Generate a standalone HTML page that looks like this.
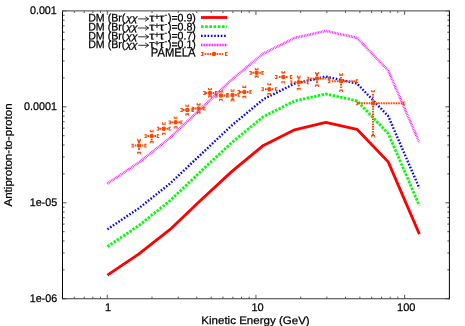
<!DOCTYPE html>
<html><head><meta charset="utf-8"><title>plot</title>
<style>
html,body{margin:0;padding:0;background:#fff;}
body{width:465px;height:326px;overflow:hidden;}
svg{display:block;will-change:transform;}
.t{font-family:"Liberation Sans",sans-serif;fill:#000;stroke:#000;stroke-width:0.25px;}
</style></head><body>
<svg width="465" height="326" viewBox="0 0 465 326">
<rect width="465" height="326" fill="#fff"/>
<path d="M62.50 298.75h4.0M449.40 298.75h-4.0M62.50 269.87h2.1M449.40 269.87h-2.1M62.50 252.97h2.1M449.40 252.97h-2.1M62.50 240.98h2.1M449.40 240.98h-2.1M62.50 231.68h2.1M449.40 231.68h-2.1M62.50 224.09h2.1M449.40 224.09h-2.1M62.50 217.66h2.1M449.40 217.66h-2.1M62.50 212.10h2.1M449.40 212.10h-2.1M62.50 207.19h2.1M449.40 207.19h-2.1M62.50 202.80h4.0M449.40 202.80h-4.0M62.50 173.92h2.1M449.40 173.92h-2.1M62.50 157.02h2.1M449.40 157.02h-2.1M62.50 145.03h2.1M449.40 145.03h-2.1M62.50 135.73h2.1M449.40 135.73h-2.1M62.50 128.14h2.1M449.40 128.14h-2.1M62.50 121.71h2.1M449.40 121.71h-2.1M62.50 116.15h2.1M449.40 116.15h-2.1M62.50 111.24h2.1M449.40 111.24h-2.1M62.50 106.85h4.0M449.40 106.85h-4.0M62.50 77.97h2.1M449.40 77.97h-2.1M62.50 61.07h2.1M449.40 61.07h-2.1M62.50 49.08h2.1M449.40 49.08h-2.1M62.50 39.78h2.1M449.40 39.78h-2.1M62.50 32.19h2.1M449.40 32.19h-2.1M62.50 25.76h2.1M449.40 25.76h-2.1M62.50 20.20h2.1M449.40 20.20h-2.1M62.50 15.29h2.1M449.40 15.29h-2.1M62.50 10.90h4.0M449.40 10.90h-4.0M62.50 298.75v-2.1M62.50 10.90v2.1M74.27 298.75v-2.1M74.27 10.90v2.1M84.23 298.75v-2.1M84.23 10.90v2.1M92.85 298.75v-2.1M92.85 10.90v2.1M100.46 298.75v-2.1M100.46 10.90v2.1M107.26 298.75v-4.0M107.26 10.90v4.0M152.02 298.75v-2.1M152.02 10.90v2.1M178.20 298.75v-2.1M178.20 10.90v2.1M196.78 298.75v-2.1M196.78 10.90v2.1M211.19 298.75v-2.1M211.19 10.90v2.1M222.96 298.75v-2.1M222.96 10.90v2.1M232.92 298.75v-2.1M232.92 10.90v2.1M241.54 298.75v-2.1M241.54 10.90v2.1M249.15 298.75v-2.1M249.15 10.90v2.1M255.95 298.75v-4.0M255.95 10.90v4.0M300.71 298.75v-2.1M300.71 10.90v2.1M326.89 298.75v-2.1M326.89 10.90v2.1M345.47 298.75v-2.1M345.47 10.90v2.1M359.88 298.75v-2.1M359.88 10.90v2.1M371.65 298.75v-2.1M371.65 10.90v2.1M381.61 298.75v-2.1M381.61 10.90v2.1M390.23 298.75v-2.1M390.23 10.90v2.1M397.84 298.75v-2.1M397.84 10.90v2.1M404.64 298.75v-4.0M404.64 10.90v4.0M449.40 298.75v-2.1M449.40 10.90v2.1" stroke="#000" stroke-width="0.9" fill="none" opacity="0.75"/>
<polyline points="107.4,275.1 138.6,254.2 169.8,229.7 201.0,200.1 232.2,171.1 263.4,145.4 294.6,129.8 325.8,122.4 357.0,129.3 388.2,161.9 419.4,234.1" fill="none" stroke="#ff0000" stroke-width="2.8" stroke-linejoin="round" stroke-linecap="butt"/>
<polyline points="107.4,246.6 138.6,225.7 169.8,200.9 201.0,171.2 232.2,142.2 263.4,116.6 294.6,101.0 325.8,93.9 357.0,100.8 388.2,133.4 419.4,205.6" fill="none" stroke="#00ff00" stroke-width="2.8" stroke-dasharray="2.4 1.4" stroke-linejoin="round"/>
<polyline points="107.4,229.3 138.6,208.4 169.8,183.7 201.0,154.3 232.2,125.1 263.4,99.2 294.6,83.7 325.8,76.6 357.0,83.5 388.2,116.1 419.4,188.3" fill="none" stroke="#0000ff" stroke-width="2.4" stroke-dasharray="1.6 1.7" stroke-linejoin="round"/>
<polyline points="107.4,183.6 138.6,162.7 169.8,138.0 201.0,108.6 232.2,79.2 263.4,53.5 294.6,37.9 325.8,30.9 357.0,37.8 388.2,70.4 419.4,142.6" fill="none" stroke="#ff00ff" stroke-width="2.6" stroke-dasharray="0.9 0.7" stroke-linejoin="round" opacity="0.85"/>
<path d="M132.65 143.70H133.75V147.50H132.65ZM131.30 143.70H133.20V144.70H131.30ZM131.30 146.50H133.20V147.50H131.30ZM132.20 145.20H133.20V146.00H132.20ZM144.25 143.70H145.35V147.50H144.25ZM144.80 143.70H146.70V144.70H144.80ZM144.80 146.50H146.70V147.50H144.80ZM144.80 145.20H145.80V146.00H144.80ZM137.15 140.15H140.95V141.25H137.15ZM137.15 138.80H138.15V140.70H137.15ZM139.95 138.80H140.95V140.70H139.95ZM138.65 139.70H139.45V140.70H138.65ZM137.15 151.85H140.95V152.95H137.15ZM137.15 152.40H138.15V154.30H137.15ZM139.95 152.40H140.95V154.30H139.95ZM138.65 152.40H139.45V153.40H138.65ZM134.75 144.60H136.35V146.60H134.75ZM141.75 144.60H143.35V146.60H141.75ZM138.05 141.30H140.05V142.90H138.05ZM138.05 148.30H140.05V149.90H138.05Z" fill="#ff4500"/><circle cx="139.05" cy="145.60" r="2.25" fill="#ff4500"/>
<path d="M145.65 134.20H146.75V138.00H145.65ZM144.30 134.20H146.20V135.20H144.30ZM144.30 137.00H146.20V138.00H144.30ZM145.20 135.70H146.20V136.50H145.20ZM156.75 134.20H157.85V138.00H156.75ZM157.30 134.20H159.20V135.20H157.30ZM157.30 137.00H159.20V138.00H157.30ZM157.30 135.70H158.30V136.50H157.30ZM149.80 131.15H153.60V132.25H149.80ZM149.80 129.80H150.80V131.70H149.80ZM152.60 129.80H153.60V131.70H152.60ZM151.30 130.70H152.10V131.70H151.30ZM149.80 141.05H153.60V142.15H149.80ZM149.80 141.60H150.80V143.50H149.80ZM152.60 141.60H153.60V143.50H152.60ZM151.30 141.60H152.10V142.60H151.30ZM147.40 135.10H149.00V137.10H147.40ZM154.40 135.10H156.00V137.10H154.40ZM150.70 138.80H152.70V140.40H150.70Z" fill="#ff4500"/><circle cx="151.70" cy="136.10" r="2.25" fill="#ff4500"/>
<path d="M158.15 126.80H159.25V130.60H158.15ZM156.80 126.80H158.70V127.80H156.80ZM156.80 129.60H158.70V130.60H156.80ZM157.70 128.30H158.70V129.10H157.70ZM168.45 126.80H169.55V130.60H168.45ZM169.00 126.80H170.90V127.80H169.00ZM169.00 129.60H170.90V130.60H169.00ZM169.00 128.30H170.00V129.10H169.00ZM161.90 123.65H165.70V124.75H161.90ZM161.90 122.30H162.90V124.20H161.90ZM164.70 122.30H165.70V124.20H164.70ZM163.40 123.20H164.20V124.20H163.40ZM161.90 132.65H165.70V133.75H161.90ZM161.90 133.20H162.90V135.10H161.90ZM164.70 133.20H165.70V135.10H164.70ZM163.40 133.20H164.20V134.20H163.40ZM159.50 127.70H161.10V129.70H159.50ZM166.50 127.70H168.10V129.70H166.50Z" fill="#ff4500"/><circle cx="163.80" cy="128.70" r="2.25" fill="#ff4500"/>
<path d="M169.85 120.40H170.95V124.20H169.85ZM168.50 120.40H170.40V121.40H168.50ZM168.50 123.20H170.40V124.20H168.50ZM169.40 121.90H170.40V122.70H169.40ZM180.25 120.40H181.35V124.20H180.25ZM180.80 120.40H182.70V121.40H180.80ZM180.80 123.20H182.70V124.20H180.80ZM180.80 121.90H181.80V122.70H180.80ZM173.70 117.75H177.50V118.85H173.70ZM173.70 116.40H174.70V118.30H173.70ZM176.50 116.40H177.50V118.30H176.50ZM175.20 117.30H176.00V118.30H175.20ZM173.70 126.25H177.50V127.35H173.70ZM173.70 126.80H174.70V128.70H173.70ZM176.50 126.80H177.50V128.70H176.50ZM175.20 126.80H176.00V127.80H175.20ZM171.30 121.30H172.90V123.30H171.30ZM178.30 121.30H179.90V123.30H178.30Z" fill="#ff4500"/><circle cx="175.60" cy="122.30" r="2.25" fill="#ff4500"/>
<path d="M181.65 108.10H182.75V111.90H181.65ZM180.30 108.10H182.20V109.10H180.30ZM180.30 110.90H182.20V111.90H180.30ZM181.20 109.60H182.20V110.40H181.20ZM191.45 108.10H192.55V111.90H191.45ZM192.00 108.10H193.90V109.10H192.00ZM192.00 110.90H193.90V111.90H192.00ZM192.00 109.60H193.00V110.40H192.00ZM185.40 105.75H189.20V106.85H185.40ZM185.40 104.40H186.40V106.30H185.40ZM188.20 104.40H189.20V106.30H188.20ZM186.90 105.30H187.70V106.30H186.90ZM185.40 113.35H189.20V114.45H185.40ZM185.40 113.90H186.40V115.80H185.40ZM188.20 113.90H189.20V115.80H188.20ZM186.90 113.90H187.70V114.90H186.90ZM183.00 109.00H184.60V111.00H183.00Z" fill="#ff4500"/><circle cx="187.30" cy="110.00" r="2.25" fill="#ff4500"/>
<path d="M192.85 106.70H193.95V110.50H192.85ZM191.50 106.70H193.40V107.70H191.50ZM191.50 109.50H193.40V110.50H191.50ZM192.40 108.20H193.40V109.00H192.40ZM203.15 106.70H204.25V110.50H203.15ZM203.70 106.70H205.60V107.70H203.70ZM203.70 109.50H205.60V110.50H203.70ZM203.70 108.20H204.70V109.00H203.70ZM196.70 104.35H200.50V105.45H196.70ZM196.70 103.00H197.70V104.90H196.70ZM199.50 103.00H200.50V104.90H199.50ZM198.20 103.90H199.00V104.90H198.20ZM196.70 111.55H200.50V112.65H196.70ZM196.70 112.10H197.70V114.00H196.70ZM199.50 112.10H200.50V114.00H199.50ZM198.20 112.10H199.00V113.10H198.20ZM194.30 107.60H195.90V109.60H194.30ZM201.30 107.60H202.90V109.60H201.30Z" fill="#ff4500"/><circle cx="198.60" cy="108.60" r="2.25" fill="#ff4500"/>
<path d="M204.55 91.10H205.65V94.90H204.55ZM203.20 91.10H205.10V92.10H203.20ZM203.20 93.90H205.10V94.90H203.20ZM204.10 92.60H205.10V93.40H204.10ZM214.95 91.10H216.05V94.90H214.95ZM215.50 91.10H217.40V92.10H215.50ZM215.50 93.90H217.40V94.90H215.50ZM215.50 92.60H216.50V93.40H215.50ZM208.10 89.25H211.90V90.35H208.10ZM208.10 87.90H209.10V89.80H208.10ZM210.90 87.90H211.90V89.80H210.90ZM209.60 88.80H210.40V89.80H209.60ZM208.10 95.35H211.90V96.45H208.10ZM208.10 95.90H209.10V97.80H208.10ZM210.90 95.90H211.90V97.80H210.90ZM209.60 95.90H210.40V96.90H209.60ZM205.70 92.00H207.30V94.00H205.70ZM212.70 92.00H214.30V94.00H212.70Z" fill="#ff4500"/><circle cx="210.00" cy="93.00" r="2.25" fill="#ff4500"/>
<path d="M216.35 93.60H217.45V97.40H216.35ZM215.00 93.60H216.90V94.60H215.00ZM215.00 96.40H216.90V97.40H215.00ZM215.90 95.10H216.90V95.90H215.90ZM226.15 93.60H227.25V97.40H226.15ZM226.70 93.60H228.60V94.60H226.70ZM226.70 96.40H228.60V97.40H226.70ZM226.70 95.10H227.70V95.90H226.70ZM219.00 91.45H222.80V92.55H219.00ZM219.00 90.10H220.00V92.00H219.00ZM221.80 90.10H222.80V92.00H221.80ZM220.50 91.00H221.30V92.00H220.50ZM219.00 98.65H222.80V99.75H219.00ZM219.00 99.20H220.00V101.10H219.00ZM221.80 99.20H222.80V101.10H221.80ZM220.50 99.20H221.30V100.20H220.50ZM223.60 94.50H225.20V96.50H223.60Z" fill="#ff4500"/><circle cx="220.90" cy="95.50" r="2.25" fill="#ff4500"/>
<path d="M227.55 93.00H228.65V96.80H227.55ZM226.20 93.00H228.10V94.00H226.20ZM226.20 95.80H228.10V96.80H226.20ZM227.10 94.50H228.10V95.30H227.10ZM237.55 93.00H238.65V96.80H237.55ZM238.10 93.00H240.00V94.00H238.10ZM238.10 95.80H240.00V96.80H238.10ZM238.10 94.50H239.10V95.30H238.10ZM230.60 90.65H234.40V91.75H230.60ZM230.60 89.30H231.60V91.20H230.60ZM233.40 89.30H234.40V91.20H233.40ZM232.10 90.20H232.90V91.20H232.10ZM230.60 99.25H234.40V100.35H230.60ZM230.60 99.80H231.60V101.70H230.60ZM233.40 99.80H234.40V101.70H233.40ZM232.10 99.80H232.90V100.80H232.10ZM235.20 93.90H236.80V95.90H235.20ZM231.50 97.60H233.50V99.20H231.50Z" fill="#ff4500"/><circle cx="232.50" cy="94.90" r="2.25" fill="#ff4500"/>
<path d="M238.95 90.00H240.05V93.80H238.95ZM237.60 90.00H239.50V91.00H237.60ZM237.60 92.80H239.50V93.80H237.60ZM238.50 91.50H239.50V92.30H238.50ZM249.35 90.00H250.45V93.80H249.35ZM249.90 90.00H251.80V91.00H249.90ZM249.90 92.80H251.80V93.80H249.90ZM249.90 91.50H250.90V92.30H249.90ZM242.40 86.85H246.20V87.95H242.40ZM242.40 85.50H243.40V87.40H242.40ZM245.20 85.50H246.20V87.40H245.20ZM243.90 86.40H244.70V87.40H243.90ZM242.40 95.85H246.20V96.95H242.40ZM242.40 96.40H243.40V98.30H242.40ZM245.20 96.40H246.20V98.30H245.20ZM243.90 96.40H244.70V97.40H243.90ZM240.00 90.90H241.60V92.90H240.00ZM247.00 90.90H248.60V92.90H247.00Z" fill="#ff4500"/><circle cx="244.30" cy="91.90" r="2.25" fill="#ff4500"/>
<path d="M250.75 70.90H251.85V74.70H250.75ZM249.40 70.90H251.30V71.90H249.40ZM249.40 73.70H251.30V74.70H249.40ZM250.30 72.40H251.30V73.20H250.30ZM261.35 70.90H262.45V74.70H261.35ZM261.90 70.90H263.80V71.90H261.90ZM261.90 73.70H263.80V74.70H261.90ZM261.90 72.40H262.90V73.20H261.90ZM254.70 69.15H258.50V70.25H254.70ZM254.70 67.80H255.70V69.70H254.70ZM257.50 67.80H258.50V69.70H257.50ZM256.20 68.70H257.00V69.70H256.20ZM254.70 75.55H258.50V76.65H254.70ZM254.70 76.10H255.70V78.00H254.70ZM257.50 76.10H258.50V78.00H257.50ZM256.20 76.10H257.00V77.10H256.20ZM252.30 71.80H253.90V73.80H252.30ZM259.30 71.80H260.90V73.80H259.30Z" fill="#ff4500"/><circle cx="256.60" cy="72.80" r="2.25" fill="#ff4500"/>
<path d="M262.75 87.30H263.85V91.10H262.75ZM261.40 87.30H263.30V88.30H261.40ZM261.40 90.10H263.30V91.10H261.40ZM262.30 88.80H263.30V89.60H262.30ZM274.95 87.30H276.05V91.10H274.95ZM275.50 87.30H277.40V88.30H275.50ZM275.50 90.10H277.40V91.10H275.50ZM275.50 88.80H276.50V89.60H275.50ZM267.40 84.25H271.20V85.35H267.40ZM267.40 82.90H268.40V84.80H267.40ZM270.20 82.90H271.20V84.80H270.20ZM268.90 83.80H269.70V84.80H268.90ZM267.40 92.95H271.20V94.05H267.40ZM267.40 93.50H268.40V95.40H267.40ZM270.20 93.50H271.20V95.40H270.20ZM268.90 93.50H269.70V94.50H268.90ZM265.00 88.20H266.60V90.20H265.00ZM272.00 88.20H273.60V90.20H272.00Z" fill="#ff4500"/><circle cx="269.30" cy="89.20" r="2.25" fill="#ff4500"/>
<path d="M276.35 75.10H277.45V78.90H276.35ZM275.00 75.10H276.90V76.10H275.00ZM275.00 77.90H276.90V78.90H275.00ZM275.90 76.60H276.90V77.40H275.90ZM289.85 75.10H290.95V78.90H289.85ZM290.40 75.10H292.30V76.10H290.40ZM290.40 77.90H292.30V78.90H290.40ZM290.40 76.60H291.40V77.40H290.40ZM281.40 72.35H285.20V73.45H281.40ZM281.40 71.00H282.40V72.90H281.40ZM284.20 71.00H285.20V72.90H284.20ZM282.90 71.90H283.70V72.90H282.90ZM281.40 81.15H285.20V82.25H281.40ZM281.40 81.70H282.40V83.60H281.40ZM284.20 81.70H285.20V83.60H284.20ZM282.90 81.70H283.70V82.70H282.90ZM279.00 76.00H280.60V78.00H279.00ZM286.00 76.00H287.60V78.00H286.00Z" fill="#ff4500"/><circle cx="283.30" cy="77.00" r="2.25" fill="#ff4500"/>
<path d="M291.25 80.40H292.35V84.20H291.25ZM289.90 80.40H291.80V81.40H289.90ZM289.90 83.20H291.80V84.20H289.90ZM290.80 81.90H291.80V82.70H290.80ZM306.75 80.40H307.85V84.20H306.75ZM307.30 80.40H309.20V81.40H307.30ZM307.30 83.20H309.20V84.20H307.30ZM307.30 81.90H308.30V82.70H307.30ZM296.80 76.75H300.60V77.85H296.80ZM296.80 75.40H297.80V77.30H296.80ZM299.60 75.40H300.60V77.30H299.60ZM298.30 76.30H299.10V77.30H298.30ZM296.80 87.95H300.60V89.05H296.80ZM296.80 88.50H297.80V90.40H296.80ZM299.60 88.50H300.60V90.40H299.60ZM298.30 88.50H299.10V89.50H298.30ZM294.40 81.30H296.00V83.30H294.40ZM301.40 81.30H303.00V83.30H301.40ZM303.90 81.30H305.50V83.30H303.90ZM297.70 78.00H299.70V79.60H297.70ZM297.70 85.00H299.70V86.60H297.70Z" fill="#ff4500"/><circle cx="298.70" cy="82.30" r="2.25" fill="#ff4500"/>
<path d="M308.15 76.70H309.25V80.50H308.15ZM306.80 76.70H308.70V77.70H306.80ZM306.80 79.50H308.70V80.50H306.80ZM307.70 78.20H308.70V79.00H307.70ZM327.75 76.70H328.85V80.50H327.75ZM328.30 76.70H330.20V77.70H328.30ZM328.30 79.50H330.20V80.50H328.30ZM328.30 78.20H329.30V79.00H328.30ZM315.10 73.25H318.90V74.35H315.10ZM315.10 71.90H316.10V73.80H315.10ZM317.90 71.90H318.90V73.80H317.90ZM316.60 72.80H317.40V73.80H316.60ZM315.10 84.55H318.90V85.65H315.10ZM315.10 85.10H316.10V87.00H315.10ZM317.90 85.10H318.90V87.00H317.90ZM316.60 85.10H317.40V86.10H316.60ZM312.70 77.60H314.30V79.60H312.70ZM310.20 77.60H311.80V79.60H310.20ZM319.70 77.60H321.30V79.60H319.70ZM322.20 77.60H323.80V79.60H322.20ZM324.70 77.60H326.30V79.60H324.70ZM316.00 74.30H318.00V75.90H316.00ZM316.00 81.30H318.00V82.90H316.00Z" fill="#ff4500"/><circle cx="317.00" cy="78.60" r="2.25" fill="#ff4500"/>
<path d="M329.15 79.30H330.25V83.10H329.15ZM327.80 79.30H329.70V80.30H327.80ZM327.80 82.10H329.70V83.10H327.80ZM328.70 80.80H329.70V81.60H328.70ZM355.75 79.30H356.85V83.10H355.75ZM356.30 79.30H358.20V80.30H356.30ZM356.30 82.10H358.20V83.10H356.30ZM356.30 80.80H357.30V81.60H356.30ZM339.20 74.55H343.00V75.65H339.20ZM339.20 73.20H340.20V75.10H339.20ZM342.00 73.20H343.00V75.10H342.00ZM340.70 74.10H341.50V75.10H340.70ZM339.20 89.45H343.00V90.55H339.20ZM339.20 90.00H340.20V91.90H339.20ZM342.00 90.00H343.00V91.90H342.00ZM340.70 90.00H341.50V91.00H340.70ZM336.80 80.20H338.40V82.20H336.80ZM334.30 80.20H335.90V82.20H334.30ZM331.80 80.20H333.40V82.20H331.80ZM343.80 80.20H345.40V82.20H343.80ZM346.30 80.20H347.90V82.20H346.30ZM348.80 80.20H350.40V82.20H348.80ZM351.30 80.20H352.90V82.20H351.30ZM353.80 80.20H355.40V82.20H353.80ZM340.10 76.90H342.10V78.50H340.10ZM340.10 83.90H342.10V85.50H340.10ZM340.10 86.40H342.10V88.00H340.10Z" fill="#ff4500"/><circle cx="341.10" cy="81.20" r="2.25" fill="#ff4500"/>
<path d="M357.15 101.40H358.25V105.20H357.15ZM355.80 101.40H357.70V102.40H355.80ZM355.80 104.20H357.70V105.20H355.80ZM356.70 102.90H357.70V103.70H356.70ZM402.75 101.40H403.85V105.20H402.75ZM403.30 101.40H405.20V102.40H403.30ZM403.30 104.20H405.20V105.20H403.30ZM403.30 102.90H404.30V103.70H403.30ZM371.10 91.25H374.90V92.35H371.10ZM371.10 89.90H372.10V91.80H371.10ZM373.90 89.90H374.90V91.80H373.90ZM372.60 90.80H373.40V91.80H372.60ZM371.10 134.95H374.90V136.05H371.10ZM371.10 135.50H372.10V137.40H371.10ZM373.90 135.50H374.90V137.40H373.90ZM372.60 135.50H373.40V136.50H372.60ZM368.70 102.30H370.30V104.30H368.70ZM366.20 102.30H367.80V104.30H366.20ZM363.70 102.30H365.30V104.30H363.70ZM361.20 102.30H362.80V104.30H361.20ZM358.70 102.30H360.30V104.30H358.70ZM375.70 102.30H377.30V104.30H375.70ZM378.20 102.30H379.80V104.30H378.20ZM380.70 102.30H382.30V104.30H380.70ZM383.20 102.30H384.80V104.30H383.20ZM385.70 102.30H387.30V104.30H385.70ZM388.20 102.30H389.80V104.30H388.20ZM390.70 102.30H392.30V104.30H390.70ZM393.20 102.30H394.80V104.30H393.20ZM395.70 102.30H397.30V104.30H395.70ZM398.20 102.30H399.80V104.30H398.20ZM400.70 102.30H402.30V104.30H400.70ZM372.00 99.00H374.00V100.60H372.00ZM372.00 96.50H374.00V98.10H372.00ZM372.00 94.00H374.00V95.60H372.00ZM372.00 106.00H374.00V107.60H372.00ZM372.00 108.50H374.00V110.10H372.00ZM372.00 111.00H374.00V112.60H372.00ZM372.00 113.50H374.00V115.10H372.00ZM372.00 116.00H374.00V117.60H372.00ZM372.00 118.50H374.00V120.10H372.00ZM372.00 121.00H374.00V122.60H372.00ZM372.00 123.50H374.00V125.10H372.00ZM372.00 126.00H374.00V127.60H372.00ZM372.00 128.50H374.00V130.10H372.00ZM372.00 131.00H374.00V132.60H372.00ZM372.00 133.50H374.00V135.10H372.00Z" fill="#ff4500"/><circle cx="373.00" cy="103.30" r="2.25" fill="#ff4500"/>
<path d="M201 17.5H227.2" stroke="#ff0000" stroke-width="2.8" fill="none"/>
<text transform="translate(88.2,21.5) rotate(0.04) scale(0.965,1)" class="t" style="font-size:11px;">DM (Br(</text>
<text transform="translate(126.0,21.5) rotate(0.04) scale(1.1,1)" class="t" style="font-size:9.6px;font-style:italic;">χχ</text>
<path d="M138.2 18.9H148.4M145.2 16.6L148.6 18.9L145.2 21.2" stroke="#000" stroke-width="0.8" fill="none"/>
<text transform="translate(149.2,21.5) rotate(0.04) scale(1.2,1)" class="t" style="font-size:11px;">τ</text>
<text transform="translate(154.4,19.5) rotate(0.04)" class="t" style="font-size:8.5px;">+</text>
<text transform="translate(159.0,21.5) rotate(0.04) scale(1.2,1)" class="t" style="font-size:11px;">τ</text>
<text transform="translate(164.5,17.6) rotate(0.04)" class="t" style="font-size:8.5px;">-</text>
<text transform="translate(195.9,21.5) rotate(0.04) scale(0.965,1)" class="t" style="font-size:11px;" text-anchor="end">)=0.9)</text>
<path d="M201 26.6H227.2" stroke="#00ff00" stroke-width="2.8" stroke-dasharray="2.6 1.6" fill="none"/>
<text transform="translate(88.2,30.6) rotate(0.04) scale(0.965,1)" class="t" style="font-size:11px;">DM (Br(</text>
<text transform="translate(126.0,30.6) rotate(0.04) scale(1.1,1)" class="t" style="font-size:9.6px;font-style:italic;">χχ</text>
<path d="M138.2 28.0H148.4M145.2 25.7L148.6 28.0L145.2 30.3" stroke="#000" stroke-width="0.8" fill="none"/>
<text transform="translate(149.2,30.6) rotate(0.04) scale(1.2,1)" class="t" style="font-size:11px;">τ</text>
<text transform="translate(154.4,28.6) rotate(0.04)" class="t" style="font-size:8.5px;">+</text>
<text transform="translate(159.0,30.6) rotate(0.04) scale(1.2,1)" class="t" style="font-size:11px;">τ</text>
<text transform="translate(164.5,26.7) rotate(0.04)" class="t" style="font-size:8.5px;">-</text>
<text transform="translate(195.9,30.6) rotate(0.04) scale(0.965,1)" class="t" style="font-size:11px;" text-anchor="end">)=0.8)</text>
<path d="M201 35.9H227.2" stroke="#0000ff" stroke-width="2.4" stroke-dasharray="1.6 1.7" fill="none"/>
<text transform="translate(88.2,39.4) rotate(0.04) scale(0.965,1)" class="t" style="font-size:11px;">DM (Br(</text>
<text transform="translate(126.0,39.4) rotate(0.04) scale(1.1,1)" class="t" style="font-size:9.6px;font-style:italic;">χχ</text>
<path d="M138.2 36.8H148.4M145.2 34.5L148.6 36.8L145.2 39.1" stroke="#000" stroke-width="0.8" fill="none"/>
<text transform="translate(149.2,39.4) rotate(0.04) scale(1.2,1)" class="t" style="font-size:11px;">τ</text>
<text transform="translate(154.4,37.4) rotate(0.04)" class="t" style="font-size:8.5px;">+</text>
<text transform="translate(159.0,39.4) rotate(0.04) scale(1.2,1)" class="t" style="font-size:11px;">τ</text>
<text transform="translate(164.5,35.5) rotate(0.04)" class="t" style="font-size:8.5px;">-</text>
<text transform="translate(195.9,39.4) rotate(0.04) scale(0.965,1)" class="t" style="font-size:11px;" text-anchor="end">)=0.7)</text>
<path d="M201 45.0H227.2" stroke="#ff00ff" stroke-width="2.6" stroke-dasharray="0.9 0.7" fill="none"/>
<text transform="translate(88.2,47.9) rotate(0.04) scale(0.965,1)" class="t" style="font-size:11px;">DM (Br(</text>
<text transform="translate(126.0,47.9) rotate(0.04) scale(1.1,1)" class="t" style="font-size:9.6px;font-style:italic;">χχ</text>
<path d="M138.2 45.3H148.4M145.2 43.0L148.6 45.3L145.2 47.6" stroke="#000" stroke-width="0.8" fill="none"/>
<text transform="translate(149.2,47.9) rotate(0.04) scale(1.2,1)" class="t" style="font-size:11px;">τ</text>
<text transform="translate(154.4,45.9) rotate(0.04)" class="t" style="font-size:8.5px;">+</text>
<text transform="translate(159.0,47.9) rotate(0.04) scale(1.2,1)" class="t" style="font-size:11px;">τ</text>
<text transform="translate(164.5,44.0) rotate(0.04)" class="t" style="font-size:8.5px;">-</text>
<text transform="translate(195.9,47.9) rotate(0.04) scale(0.965,1)" class="t" style="font-size:11px;" text-anchor="end">)=0.1)</text>
<text transform="translate(195.5,56.5) rotate(0.04) scale(0.945,1)" class="t" style="font-size:11.9px;" text-anchor="end">PAMELA</text>
<path d="M202.25 52.10H203.35V55.90H202.25ZM200.90 52.10H202.80V53.10H200.90ZM200.90 54.90H202.80V55.90H200.90ZM201.80 53.60H202.80V54.40H201.80ZM225.05 52.10H226.15V55.90H225.05ZM225.60 52.10H227.50V53.10H225.60ZM225.60 54.90H227.50V55.90H225.60ZM225.60 53.60H226.60V54.40H225.60ZM209.70 53.00H211.30V55.00H209.70ZM207.20 53.00H208.80V55.00H207.20ZM204.70 53.00H206.30V55.00H204.70ZM216.70 53.00H218.30V55.00H216.70ZM219.20 53.00H220.80V55.00H219.20ZM221.70 53.00H223.30V55.00H221.70Z" fill="#ff4500"/><circle cx="214.00" cy="54.00" r="2.25" fill="#ff4500"/>
<text transform="translate(56.8,14.0) rotate(0.04) scale(0.975,1)" class="t" style="font-size:11px;" text-anchor="end">0.001</text>
<text transform="translate(56.9,109.9) rotate(0.04) scale(0.975,1)" class="t" style="font-size:11px;" text-anchor="end">0.0001</text>
<text transform="translate(57.099999999999994,205.9) rotate(0.04) scale(0.975,1)" class="t" style="font-size:11px;" text-anchor="end">1e-05</text>
<text transform="translate(57.099999999999994,301.9) rotate(0.04) scale(0.975,1)" class="t" style="font-size:11px;" text-anchor="end">1e-06</text>
<text transform="translate(108.0,310.9) rotate(0.04)" class="t" style="font-size:11px;" text-anchor="middle">1</text>
<text transform="translate(257.6,310.9) rotate(0.04)" class="t" style="font-size:11px;" text-anchor="middle">10</text>
<text transform="translate(406.2,310.9) rotate(0.04)" class="t" style="font-size:11px;" text-anchor="middle">100</text>
<text transform="translate(255.5,324.1) rotate(0.04) scale(1.06,1)" class="t" style="font-size:10.9px;" text-anchor="middle">Kinetic Energy (GeV)</text>
<text transform="translate(11.7,155.0) rotate(-89.96) scale(1.075,1)" class="t" style="font-size:10.8px;" text-anchor="middle">Antiproton-to-proton</text>
<path d="M62.5 10.4V299.25M449.4 10.4V299.25" stroke="#000" stroke-width="1" fill="none"/>
<path d="M62.0 10.9H449.9" stroke="#666" stroke-width="1.1" fill="none"/>
<path d="M62.0 298.75H449.9" stroke="#3a3a3a" stroke-width="1.1" fill="none"/>
</svg>
</body></html>
